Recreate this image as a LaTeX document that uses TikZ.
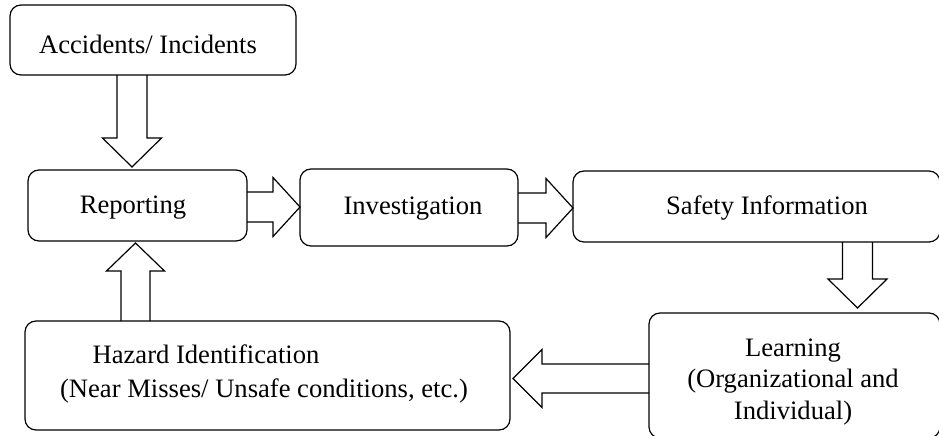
\documentclass[tikz,border=0pt]{standalone}
\usepackage{fontspec}
\setmainfont{Liberation Serif}
\usetikzlibrary{calc}
\newcommand\arrD[2]{\draw[blk] let \p1=(#1), \p2=(#2) in (\x1-15pt,\y1) -- (\x1-15pt,\y2+29pt) -- (\x1-29.5pt,\y2+29pt) -- (\x1,\y2) -- (\x1+29.5pt,\y2+29pt) -- (\x1+15pt,\y2+29pt) -- (\x1+15pt,\y1);}
\newcommand\arrU[2]{\draw[blk] let \p1=(#1), \p2=(#2) in (\x1-14.5pt,\y1) -- (\x1-14.5pt,\y2-28pt) -- (\x1-29pt,\y2-28pt) -- (\x1,\y2) -- (\x1+29pt,\y2-28pt) -- (\x1+14.5pt,\y2-28pt) -- (\x1+14.5pt,\y1);}
\newcommand\arrR[2]{\draw[blk] let \p1=(#1), \p2=(#2) in (\x1,\y1+15pt) -- (\x2-27pt,\y1+15pt) -- (\x2-27pt,\y1+29.5pt) -- (\x2,\y1) -- (\x2-27pt,\y1-29.5pt) -- (\x2-27pt,\y1-15pt) -- (\x1,\y1-15pt);}
\newcommand\arrL[2]{\draw[blk] let \p1=(#1), \p2=(#2) in (\x1,\y1+14.5pt) -- (\x2+29pt,\y1+14.5pt) -- (\x2+29pt,\y1+29pt) -- (\x2,\y1) -- (\x2+29pt,\y1-29pt) -- (\x2+29pt,\y1-14.5pt) -- (\x1,\y1-14.5pt);}
\begin{document}
\begin{tikzpicture}[x=1pt,y=-1pt,
  box/.style={draw,line width=1.2pt,rounded corners=11pt,inner sep=0pt,outer sep=0pt},
  lbl/.style={anchor=base,inner sep=0pt,font=\fontsize{26.6}{32}\selectfont},
  blk/.style={draw,line width=1.2pt,line join=miter}]
\clip (0,0) rectangle (939,436);
\fill[white] (0,0) rectangle (939,436);
% boxes
\node[box,minimum width=286pt,minimum height=70pt] (acc) at (153,40) {};
\node[box,minimum width=219pt,minimum height=71pt] (rep) at (137.5,205.5) {};
\node[box,minimum width=218pt,minimum height=77pt] (inv) at (409,207.5) {};
\node[box,minimum width=367pt,minimum height=71pt] (saf) at (756.5,206.5) {};
\node[box,minimum width=291pt,minimum height=125pt] (learn) at (794.5,375.5) {};
\node[box,minimum width=485pt,minimum height=109pt] (haz) at (267.5,375.5) {};
% texts
\node[lbl] (tacc) at (148,54) {Accidents/ Incidents};
\node[lbl] (trep) at (133,213) {Reporting};
\node[lbl] (tinv) at (413,214) {Investigation};
\node[lbl] (tsaf) at (767,214) {Safety Information};
\node[lbl] (tl1) at (793,356) {Learning};
\node[lbl] (tl2) at (793,387) {(Organizational and};
\node[lbl] (tl3) at (793,419) {Individual)};
\node[lbl] (th1) at (206,363) {Hazard Identification};
\node[lbl] (th2) at (264,397) {(Near Misses/ Unsafe conditions, etc.)};
% block arrows
\arrD{[xshift=-21pt]acc.south}{[yshift=3pt]rep.north}
\arrR{[yshift=-1.5pt]rep.east}{inv.west}
\arrR{[yshift=-0.5pt]inv.east}{saf.west}
\arrD{[xshift=101pt]saf.south}{[yshift=5pt]learn.north}
\arrL{[yshift=-3pt]learn.west}{[xshift=3pt]haz.east}
\arrU{[xshift=-132pt]haz.north}{[yshift=-2pt]rep.south}
\end{tikzpicture}
\end{document}
